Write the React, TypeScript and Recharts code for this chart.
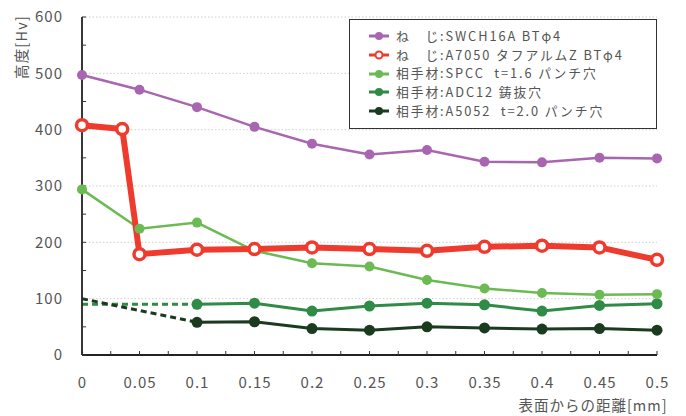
import React from 'react';
import { LineChart, Line, XAxis, YAxis, CartesianGrid, Legend } from 'recharts';

// depth from the surface [mm]
const depth = [0, 0.05, 0.1, 0.15, 0.2, 0.25, 0.3, 0.35, 0.4, 0.45, 0.5];
const depthA7050 = [0, 0.035, 0.05, 0.1, 0.15, 0.2, 0.25, 0.3, 0.35, 0.4, 0.45, 0.5];
const depthMate = [0.1, 0.15, 0.2, 0.25, 0.3, 0.35, 0.4, 0.45, 0.5];
const depthDash = [0, 0.1];

// hardness [Hv]
const swch16a = [497, 471, 440, 405, 375, 356, 364, 343, 342, 350, 349];
const a7050 = [408, 401, 179, 187, 188, 191, 188, 185, 192, 194, 191, 169];
const spcc = [294, 224, 235, 185, 163, 157, 133, 118, 110, 107, 108];
const adc12 = [90, 92, 78, 87, 92, 89, 78, 88, 91];
const a5052 = [58, 59, 47, 44, 50, 48, 46, 47, 44];
const adc12Dash = [90, 90];
const a5052Dash = [100, 58];

const xTicks = [0, 0.025, 0.05, 0.075, 0.1, 0.125, 0.15, 0.175, 0.2, 0.225, 0.25, 0.275, 0.3, 0.325, 0.35, 0.375, 0.4, 0.425, 0.45, 0.475, 0.5];
const yTicks = [0, 50, 100, 150, 200, 250, 300, 350, 400, 450, 500, 550, 600];
const gridValues = [100, 200, 300, 400, 500, 600];

const legendNames = [
  'ね　じ:SWCH16A BTφ4',
  'ね　じ:A7050 タフアルムZ BTφ4',
  '相手材:SPCC  t=1.6 パンチ穴',
  '相手材:ADC12 鋳抜穴',
  '相手材:A5052  t=2.0 パンチ穴',
];

const PURPLE = '#a966b0';
const RED = '#ee3b2e';
const LIGHT_GREEN = '#6cba53';
const GREEN = '#2f8b46';
const DARK_GREEN = '#1b3b1f';

const FONT = "'Noto Sans CJK JP', 'Noto Sans', sans-serif";
const TEXT = '#555';

const pts = (xs: number[], ys: number[]) => xs.map((x, i) => ({ x, y: ys[i] }));

const legendIcons = [
  { color: PURPLE, hollow: false },
  { color: RED, hollow: true },
  { color: LIGHT_GREEN, hollow: false },
  { color: GREEN, hollow: false },
  { color: DARK_GREEN, hollow: false },
];

const ROW_H = 18.7;

const LegendBox = () => (
  <div
    style={{
      boxSizing: 'border-box',
      width: 308,
      height: 110,
      border: '1.5px solid #333',
      background: '#fff',
      padding: '7px 0 0 18px',
      fontFamily: FONT,
      fontSize: 12.8,
      letterSpacing: 1.9,
      color: TEXT,
      textAlign: 'left',
    }}
  >
    {legendNames.map((name, i) => (
      <div key={name} style={{ display: 'flex', alignItems: 'center', height: ROW_H, whiteSpace: 'pre' }}>
        <svg width={22} height={12} style={{ marginRight: 6, flex: 'none' }}>
          <line x1={1} y1={6} x2={21} y2={6} stroke={legendIcons[i].color} strokeWidth={3} />
          <circle
            cx={11}
            cy={6}
            r={legendIcons[i].hollow ? 3.5 : 4}
            fill={legendIcons[i].hollow ? '#fff' : legendIcons[i].color}
            stroke={legendIcons[i].color}
            strokeWidth={legendIcons[i].hollow ? 2 : 0}
          />
        </svg>
        <span style={{ display: 'block', height: ROW_H, lineHeight: `${ROW_H}px` }}>{name}</span>
      </div>
    ))}
  </div>
);

const XTick = (props: any) => {
  const v = props.payload.value;
  if (Math.round(v * 1000) % 50 !== 0) return null;
  return (
    <text x={props.x + 0.5} y={props.y} dy="0.71em" textAnchor="middle" fill={TEXT} fontSize={15} fontFamily={FONT} style={{ letterSpacing: 1 }}>
      {String(Number(v.toFixed(3)))}
    </text>
  );
};

const YTick = (props: any) => {
  const v = props.payload.value;
  if (v % 100 !== 0) return null;
  return (
    <text x={props.x + 1} y={props.y} dy="0.355em" textAnchor="end" fill={TEXT} fontSize={15} fontFamily={FONT} style={{ letterSpacing: 1 }}>
      {v}
    </text>
  );
};

const YTitle = () => (
  <text x={20} y={47} transform="rotate(-90, 20, 47)" textAnchor="middle" dominantBaseline="central" fill={TEXT} fontSize={14.5} fontFamily={FONT} style={{ letterSpacing: 1.2 }}>
    高度[Hv]
  </text>
);

const XTitle = () => (
  <text x={593} y={404} textAnchor="middle" dominantBaseline="central" fill={TEXT} fontSize={14.5} fontFamily={FONT} style={{ letterSpacing: 1 }}>
    表面からの距離[mm]
  </text>
);

export default function App() {
  return (
    <div style={{ position: 'absolute', left: 0, top: 0, background: '#fff' }}>
      <LineChart width={686} height={416} margin={{ top: 17, right: 29, bottom: 0, left: 0 }}>
        <CartesianGrid vertical={false} horizontalValues={gridValues} stroke="#cfcfcf" strokeDasharray="1.5 2" />
        <XAxis
          type="number"
          dataKey="x"
          domain={[0, 0.5]}
          ticks={xTicks}
          interval={0}
          height={61}
          axisLine={{ stroke: '#222', strokeWidth: 1.8 }}
          tickLine={{ stroke: '#333', strokeWidth: 1 }}
          tickSize={-4}
          tickMargin={26}
          tick={<XTick />}
          label={<XTitle />}
        />
        <YAxis
          type="number"
          domain={[0, 600]}
          ticks={yTicks}
          interval={0}
          width={82}
          axisLine={{ stroke: '#222', strokeWidth: 1.8 }}
          tickLine={{ stroke: '#333', strokeWidth: 1 }}
          tickSize={-4}
          tickMargin={24}
          tick={<YTick />}
          label={<YTitle />}
        />
        <Legend
          layout="vertical"
          align="center"
          verticalAlign="middle"
          content={<LegendBox />}
          wrapperStyle={{ top: 19, left: 349, width: 308, height: 110 }}
        />

        <Line data={pts(depthDash, adc12Dash)} dataKey="y" stroke={GREEN} strokeWidth={3} strokeDasharray="6 4" dot={false} legendType="none" isAnimationActive={false} />
        <Line data={pts(depthDash, a5052Dash)} dataKey="y" stroke={DARK_GREEN} strokeWidth={3} strokeDasharray="6 4" dot={false} legendType="none" isAnimationActive={false} />
        <Line data={pts(depthMate, a5052)} dataKey="y" name={legendNames[4]} stroke={DARK_GREEN} strokeWidth={3} dot={{ r: 5.5, fill: DARK_GREEN, stroke: DARK_GREEN, strokeWidth: 0 }} isAnimationActive={false} />
        <Line data={pts(depthMate, adc12)} dataKey="y" name={legendNames[3]} stroke={GREEN} strokeWidth={3} dot={{ r: 5.5, fill: GREEN, stroke: GREEN, strokeWidth: 0 }} isAnimationActive={false} />
        <Line data={pts(depth, spcc)} dataKey="y" name={legendNames[2]} stroke={LIGHT_GREEN} strokeWidth={2.5} dot={{ r: 5, fill: LIGHT_GREEN, stroke: LIGHT_GREEN, strokeWidth: 0 }} isAnimationActive={false} />
        <Line data={pts(depthA7050, a7050)} dataKey="y" name={legendNames[1]} stroke={RED} strokeWidth={6} dot={{ r: 5.5, fill: '#fff', stroke: RED, strokeWidth: 3.5 }} isAnimationActive={false} />
        <Line data={pts(depth, swch16a)} dataKey="y" name={legendNames[0]} stroke={PURPLE} strokeWidth={2.5} dot={{ r: 5, fill: PURPLE, stroke: PURPLE, strokeWidth: 0 }} isAnimationActive={false} />
      </LineChart>
    </div>
  );
}
